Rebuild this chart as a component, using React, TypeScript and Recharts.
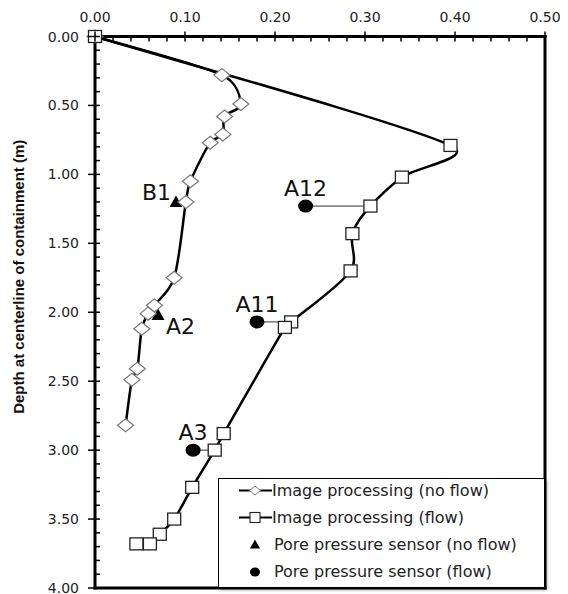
import React from 'react';
import { ComposedChart, Line, Scatter, XAxis, YAxis, Legend } from 'recharts';

// Image processing (no flow) – diamonds
const noFlowDepth = [0, 0.28, 0.49, 0.58, 0.71, 0.77, 1.05, 1.2, 1.75, 1.95, 2.01, 2.12, 2.41, 2.49, 2.82];
const noFlowValue = [0, 0.141, 0.162, 0.144, 0.142, 0.128, 0.106, 0.101, 0.088, 0.066, 0.059, 0.052, 0.047, 0.041, 0.034];

// Image processing (flow) – squares
const flowDepth = [0, 0.79, 1.02, 1.23, 1.43, 1.7, 2.07, 2.11, 2.88, 3.0, 3.27, 3.5, 3.61, 3.68, 3.68];
const flowValue = [0, 0.395, 0.341, 0.306, 0.286, 0.284, 0.218, 0.211, 0.143, 0.133, 0.108, 0.088, 0.072, 0.061, 0.046];

// Pore pressure sensors (no flow) – triangles
const sensorNoFlowNames = ['B1', 'A2'];
const sensorNoFlowDepth = [1.2, 2.02];
const sensorNoFlowValue = [0.09, 0.07];
const sensorNoFlowImageValue = [0.101, 0.059];

// Pore pressure sensors (flow) – circles
const sensorFlowNames = ['A12', 'A11', 'A3'];
const sensorFlowDepth = [1.23, 2.07, 3.0];
const sensorFlowValue = [0.234, 0.18, 0.109];
const sensorFlowImageValue = [0.306, 0.218, 0.133];

const seriesNames = [
  'Image processing (no flow)',
  'Image processing (flow)',
  'Pore pressure sensor (no flow)',
  'Pore pressure sensor (flow)',
];
const yTitle = 'Depth at centerline of containment (m)';

const xMajorTicks = [0, 0.1, 0.2, 0.3, 0.4, 0.5];
const yMajorTicks = [0, 0.5, 1.0, 1.5, 2.0, 2.5, 3.0, 3.5, 4.0];

// minor ticks: 4 subdivisions between majors
const withMinor = (majors: number[]) => {
  const out: number[] = [];
  for (let i = 0; i < majors.length; i++) {
    out.push(majors[i]);
    if (i < majors.length - 1) {
      const step = (majors[i + 1] - majors[i]) / 5;
      for (let k = 1; k < 5; k++) out.push(+(majors[i] + k * step).toFixed(4));
    }
  }
  return out;
};
const xTicks = withMinor(xMajorTicks);
const yTicks = withMinor(yMajorTicks);
const isMajor = (v: number, majors: number[]) => majors.some((m) => Math.abs(m - v) < 1e-6);

const noFlowData = noFlowDepth.map((y, i) => ({ x: noFlowValue[i], y }));
const flowData = flowDepth.map((y, i) => ({ x: flowValue[i], y }));
const sensorNoFlowData = sensorNoFlowNames.map((name, i) => ({ name, x: sensorNoFlowValue[i], y: sensorNoFlowDepth[i] }));
const sensorFlowData = sensorFlowNames.map((name, i) => ({ name, x: sensorFlowValue[i], y: sensorFlowDepth[i] }));
const connectors = [
  ...sensorNoFlowNames.map((n, i) => [
    { x: sensorNoFlowValue[i], y: sensorNoFlowDepth[i] },
    { x: sensorNoFlowImageValue[i], y: sensorNoFlowDepth[i] },
  ]),
  ...sensorFlowNames.map((n, i) => [
    { x: sensorFlowValue[i], y: sensorFlowDepth[i] },
    { x: sensorFlowImageValue[i], y: sensorFlowDepth[i] },
  ]),
];

// label placement around sensor markers
const labelPlacement: Record<string, string> = { B1: 'upLeft', A2: 'downRight', A12: 'up', A11: 'up', A3: 'up' };

const TICK_FONT = 'DejaVu Sans';

// Excel-like smoothed line: Catmull-Rom with tangents damped next to long segments
function smoothCurve(context: any) {
  let pts: number[][] = [];
  const dist = (a: number[], b: number[]) => Math.hypot(a[0] - b[0], a[1] - b[1]);
  return {
    areaStart() {},
    areaEnd() {},
    lineStart() {
      pts = [];
    },
    point(x: number, y: number) {
      pts.push([+x, +y]);
    },
    lineEnd() {
      const n = pts.length;
      if (!n) return;
      context.moveTo(pts[0][0], pts[0][1]);
      for (let i = 0; i < n - 1; i++) {
        const p0 = pts[i === 0 ? 0 : i - 1];
        const p1 = pts[i];
        const p2 = pts[i + 1];
        const p3 = pts[i + 2 < n ? i + 2 : n - 1];
        const d01 = dist(p0, p1);
        const d12 = dist(p1, p2);
        const d23 = dist(p2, p3);
        const f1 = d01 + d12 > 0 ? Math.min(1, Math.sqrt((2 * d12) / (d01 + d12))) / 6 : 0;
        const f2 = d12 + d23 > 0 ? Math.min(1, Math.sqrt((2 * d12) / (d12 + d23))) / 6 : 0;
        const c1x = p1[0] + (p2[0] - p0[0]) * f1;
        const c1y = p1[1] + (p2[1] - p0[1]) * f1;
        const c2x = p2[0] - (p3[0] - p1[0]) * f2;
        const c2y = p2[1] - (p3[1] - p1[1]) * f2;
        context.bezierCurveTo(c1x, c1y, c2x, c2y, p2[0], p2[1]);
      }
    },
  };
}

const DiamondDot = (p: any) => {
  const { cx, cy } = p;
  if (cx == null || cy == null) return <g key={p.index} />;
  return (
    <path
      key={p.index}
      d={`M${cx},${cy - 6.5}L${cx + 8},${cy}L${cx},${cy + 6.5}L${cx - 8},${cy}Z`}
      fill="#fff"
      stroke="#777"
      strokeWidth={1.2}
    />
  );
};

const SquareDot = (p: any) => {
  const { cx, cy } = p;
  if (cx == null || cy == null) return <g key={p.index} />;
  return <rect key={p.index} x={cx - 6.5} y={cy - 6} width={13} height={12} fill="#fff" stroke="#222" strokeWidth={1.3} />;
};

const SensorLabel = ({ cx, cy, name }: any) => {
  const place = labelPlacement[name] || 'up';
  let x = cx;
  let y = cy - 10;
  let anchor: any = 'middle';
  if (place === 'upLeft') {
    x = cx - 5;
    y = cy - 2;
    anchor = 'end';
  } else if (place === 'downRight') {
    x = cx + 8;
    y = cy + 19;
    anchor = 'start';
  }
  return (
    <text x={x} y={y} textAnchor={anchor} fontFamily={TICK_FONT} fontSize={22} fill="#111">
      {name}
    </text>
  );
};

const TriangleShape = (p: any) => {
  const { cx, cy, payload } = p;
  return (
    <g>
      <path d={`M${cx},${cy - 6.5}L${cx + 6.5},${cy + 5}L${cx - 6.5},${cy + 5}Z`} fill="#000" />
      <SensorLabel cx={cx} cy={cy} name={payload.name} />
    </g>
  );
};

const CircleShape = (p: any) => {
  const { cx, cy, payload } = p;
  return (
    <g>
      <ellipse cx={cx} cy={cy} rx={7.5} ry={6.5} fill="#000" />
      <SensorLabel cx={cx} cy={cy} name={payload.name} />
    </g>
  );
};

const TopTick = (props: any) => {
  const { x, y, payload } = props;
  const v = payload.value;
  const major = isMajor(v, xMajorTicks);
  return (
    <g>
      <line x1={x} x2={x} y1={major ? y - 5 : y} y2={y + 5} stroke="#000" strokeWidth={1.5} />
      {major && (
        <text x={x} y={y - 15} textAnchor="middle" fontFamily={TICK_FONT} fontSize={14} fill="#222">
          {v.toFixed(2)}
        </text>
      )}
    </g>
  );
};

const LeftTick = (props: any) => {
  const { x, y, payload } = props;
  const v = payload.value;
  const major = isMajor(v, yMajorTicks);
  return (
    <g>
      <line x1={major ? x - 7 : x} x2={x + 5} y1={y} y2={y} stroke="#000" strokeWidth={1.5} />
      {major && (
        <text x={x - 16} y={y} dy="0.36em" textAnchor="end" fontFamily={TICK_FONT} fontSize={14} fill="#222">
          {v.toFixed(2)}
        </text>
      )}
    </g>
  );
};

const YTitle = (props: any) => {
  const vb = props.viewBox || { x: 0, y: 0, width: 0, height: 0 };
  const cx = vb.x + 16;
  const cy = vb.y + vb.height / 2 - 35.5;
  return (
    <text
      x={cx}
      y={cy}
      transform={`rotate(-90, ${cx}, ${cy})`}
      textAnchor="middle"
      fontFamily="Liberation Sans"
      fontWeight="bold"
      fontSize={15}
      fill="#111"
    >
      {props.value || yTitle}
    </text>
  );
};

const legendIcon: Record<string, string> = {
  [seriesNames[0]]: 'diamond',
  [seriesNames[1]]: 'square',
  [seriesNames[2]]: 'triangle',
  [seriesNames[3]]: 'circle',
};

const LegendIcon = ({ kind }: { kind: string }) => {
  const c = 36;
  const m = 13.5;
  if (kind === 'diamond')
    return (
      <g>
        <line x1={20} x2={53} y1={m} y2={m} stroke="#000" strokeWidth={2.2} />
        <path d={`M${c},${m - 4.5}L${c + 5.5},${m}L${c},${m + 4.5}L${c - 5.5},${m}Z`} fill="#fff" stroke="#777" strokeWidth={1} />
      </g>
    );
  if (kind === 'square')
    return (
      <g>
        <line x1={20} x2={53} y1={m} y2={m} stroke="#000" strokeWidth={2.2} />
        <rect x={c - 5} y={m - 5} width={10} height={10} fill="#fff" stroke="#222" strokeWidth={1.1} />
      </g>
    );
  if (kind === 'triangle') return <path d={`M${c},${m - 5}L${c + 5},${m + 4}L${c - 5},${m + 4}Z`} fill="#000" />;
  return <ellipse cx={c} cy={m + 0.5} rx={5} ry={4.5} fill="#000" />;
};

const renderLegend = (props: any) => {
  const items = (props.payload || [])
    .filter((e: any) => e.type !== 'none' && legendIcon[e.value])
    .slice()
    .sort((a: any, b: any) => seriesNames.indexOf(a.value) - seriesNames.indexOf(b.value));
  return (
    <div
      style={{
        boxSizing: 'border-box',
        width: '100%',
        height: '100%',
        border: '1px solid #000',
        background: '#fff',
        boxShadow: '2px 2px 3px rgba(0,0,0,0.35)',
        overflow: 'hidden',
      }}
    >
      <div style={{ position: 'relative', top: -2 }}>
        {items.map((e: any, i: number) => {
          const kind = legendIcon[e.value];
          const pointOnly = kind === 'triangle' || kind === 'circle';
          return (
            <div key={i} style={{ display: 'flex', alignItems: 'center', height: 27 }}>
              <svg width={53} height={27} style={{ flex: 'none' }}>
                <LegendIcon kind={kind} />
              </svg>
              <span
                style={{
                  fontFamily: TICK_FONT,
                  fontSize: 16,
                  color: '#222',
                  whiteSpace: 'nowrap',
                  marginLeft: pointOnly ? 2 : 0,
                }}
              >
                {e.value}
              </span>
            </div>
          );
        })}
      </div>
    </div>
  );
};

export default function App() {
  return (
    <div style={{ width: 560, height: 586, background: '#fff' }}>
      <ComposedChart width={560} height={586} margin={{ top: 0, right: 23, bottom: 6, left: 0 }}>
        <XAxis
          xAxisId="main"
          orientation="top"
          type="number"
          dataKey="x"
          domain={[0, 0.5]}
          ticks={xTicks}
          interval={0}
          height={28.5}
          tickSize={0}
          tickMargin={0}
          tickLine={false}
          tick={<TopTick />}
          axisLine={{ stroke: '#000', strokeWidth: 3, strokeLinecap: 'square' }}
        />
        <XAxis
          xAxisId="frame"
          orientation="bottom"
          mirror
          type="number"
          dataKey="x"
          domain={[0, 0.5]}
          tick={false}
          tickLine={false}
          axisLine={{ stroke: '#000', strokeWidth: 3, strokeLinecap: 'square' }}
        />
        <YAxis
          yAxisId="main"
          orientation="left"
          type="number"
          dataKey="y"
          reversed
          domain={[0, 4]}
          ticks={yTicks}
          interval={0}
          width={87}
          tickSize={0}
          tickMargin={0}
          tickLine={false}
          tick={<LeftTick />}
          axisLine={{ stroke: '#000', strokeWidth: 3, strokeLinecap: 'square' }}
          label={{ value: yTitle, content: YTitle }}
        />
        <YAxis
          yAxisId="frame"
          orientation="right"
          mirror
          type="number"
          dataKey="y"
          reversed
          domain={[0, 4]}
          tick={false}
          tickLine={false}
          axisLine={{ stroke: '#000', strokeWidth: 3, strokeLinecap: 'square' }}
        />
        {connectors.map((d, i) => (
          <Line
            key={`c${i}`}
            xAxisId="main"
            yAxisId="main"
            data={d}
            dataKey="y"
            type="linear"
            stroke="#333"
            strokeWidth={1}
            dot={false}
            activeDot={false}
            legendType="none"
            isAnimationActive={false}
          />
        ))}
        <Line
          xAxisId="main"
          yAxisId="main"
          name={seriesNames[0]}
          data={noFlowData}
          dataKey="y"
          type={smoothCurve as any}
          stroke="#000"
          strokeWidth={2.5}
          dot={DiamondDot}
          activeDot={false}
          legendType="diamond"
          isAnimationActive={false}
        />
        <Line
          xAxisId="main"
          yAxisId="main"
          name={seriesNames[1]}
          data={flowData}
          dataKey="y"
          type={smoothCurve as any}
          stroke="#000"
          strokeWidth={2.5}
          dot={SquareDot}
          activeDot={false}
          legendType="square"
          isAnimationActive={false}
        />
        <Scatter
          xAxisId="main"
          yAxisId="main"
          name={seriesNames[2]}
          data={sensorNoFlowData}
          fill="#000"
          shape={TriangleShape}
          legendType="triangle"
          isAnimationActive={false}
        />
        <Scatter
          xAxisId="main"
          yAxisId="main"
          name={seriesNames[3]}
          data={sensorFlowData}
          fill="#000"
          shape={CircleShape}
          legendType="circle"
          isAnimationActive={false}
        />
        <Legend
          layout="vertical"
          align="center"
          verticalAlign="middle"
          wrapperStyle={{ left: 210, top: 470, width: 327, height: 110 }}
          content={renderLegend}
        />
      </ComposedChart>
    </div>
  );
}
